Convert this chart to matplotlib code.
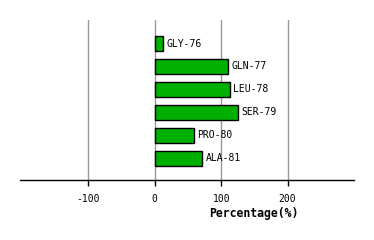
import matplotlib
matplotlib.use("Agg")
import matplotlib.pyplot as plt
import numpy as np

# residues and their percentage values
residues = ["GLY-76", "GLN-77", "LEU-78", "SER-79", "PRO-80", "ALA-81"]
percent = [12.5, 110, 113, 125, 59, 71.5]
xticks = [-100, 0, 100, 200]

fig = plt.figure(figsize=(3.74, 2.40), dpi=100)
ax = fig.add_axes([20/374, 60/240, 334/374, 160/240])

ypos = np.arange(len(residues))
ax.barh(ypos, percent, height=0.655, color="#00b000", edgecolor="black", linewidth=1, zorder=3)
for y, v, name in zip(ypos, percent, residues):
    ax.text(v + 5, y, name, va="center", ha="left", family="DejaVu Sans Mono", fontsize=7)

ax.set_xlim(-203, 300)
ax.set_ylim(5.96, -1.03)
ax.set_xticks(xticks)
ax.set_xticklabels([str(t) for t in xticks], family="DejaVu Sans Mono", fontsize=7)
ax.set_yticks([])
ax.grid(axis="x", color="#999999", linewidth=1, zorder=0)
for s in ["top", "right", "left"]:
    ax.spines[s].set_visible(False)
ax.spines["bottom"].set_linewidth(1)
ax.tick_params(axis="x", direction="out", length=4, width=1, pad=6)

fig.text(254/374, 1 - 214/240, "Percentage(%)", ha="center", va="center",
         family="DejaVu Sans Mono", fontweight="bold", fontsize=8.3)

fig.savefig("out.png", dpi=100)
